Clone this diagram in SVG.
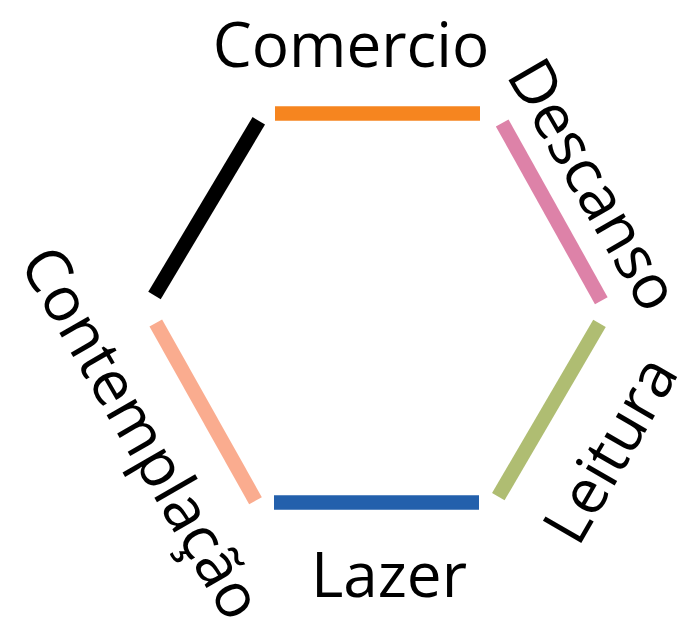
<svg xmlns="http://www.w3.org/2000/svg" width="698" height="623" viewBox="0 0 698 623">
<style>
.seg{fill:none;stroke-width:14.5;stroke-linecap:butt}
.lbl{font-family:"Open Sans","Noto Sans",sans-serif;font-size:62px;fill:#000;text-anchor:middle}
</style>
<rect width="698" height="623" fill="#fff"/>
<g id="connectors">
<line class="seg" x1="275" y1="113.5" x2="480" y2="113.5" stroke="#F6851F"/>
<line class="seg" x1="502.2" y1="123" x2="601.3" y2="300.7" stroke="#DD82A8"/>
<line class="seg" x1="599.5" y1="323.3" x2="498.3" y2="496.7" stroke="#AFBD72"/>
<line class="seg" x1="274" y1="502.5" x2="479" y2="502.5" stroke="#2360AC"/>
<line class="seg" x1="155.8" y1="323" x2="255.5" y2="500.7" stroke="#FAAC8F"/>
<line class="seg" x1="258.8" y1="120.8" x2="154.5" y2="295.5" stroke="#000"/>
</g>
<g id="comercio"><text class="lbl" x="351" y="67">Comercio</text></g>
<g id="descanso"><text class="lbl" transform="translate(575,195.5) rotate(60)">Descanso</text></g>
<g id="leitura"><text class="lbl" transform="translate(629,460.5) rotate(-60)">Leitura</text></g>
<g id="lazer"><text class="lbl" x="389" y="597">Lazer</text></g>
<g id="contemplacao"><text class="lbl" transform="translate(123,443.5) rotate(60)">Contemplação</text></g>
</svg>
